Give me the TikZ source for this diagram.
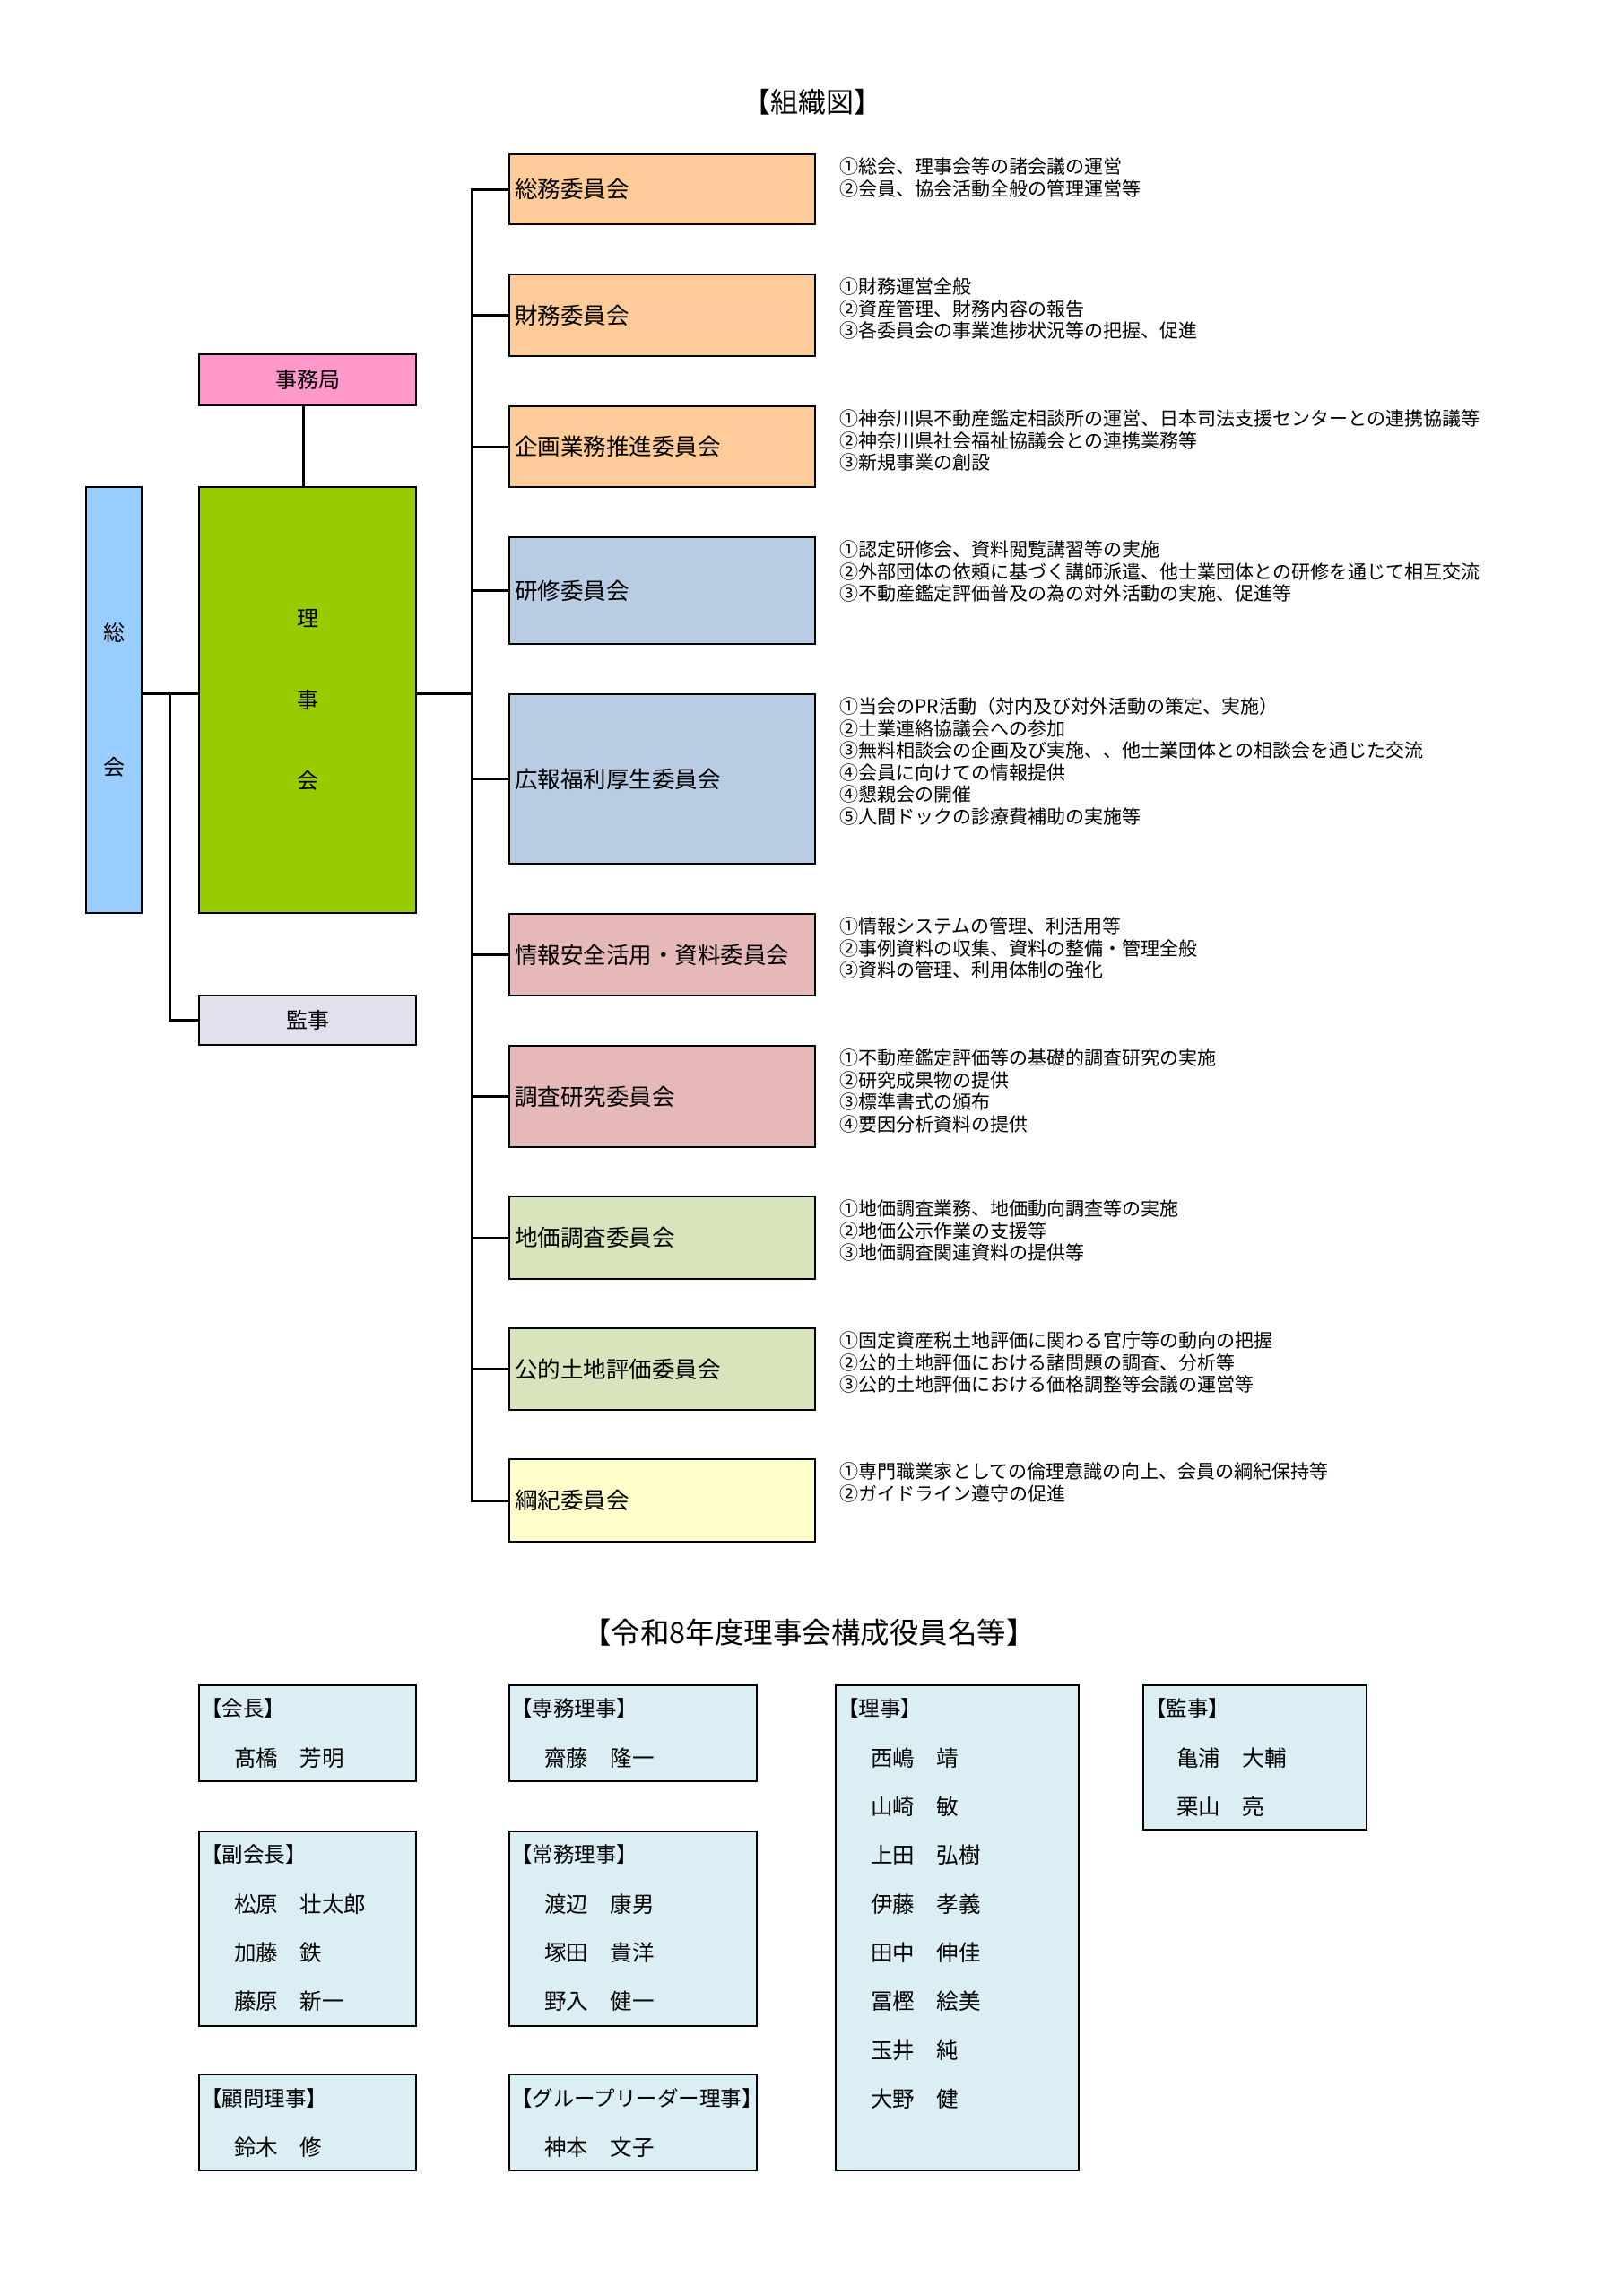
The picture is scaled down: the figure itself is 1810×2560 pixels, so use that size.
\documentclass[tikz,border=0pt]{standalone}
\usepackage{fontspec}
\setmainfont{Noto Sans CJK JP}
\definecolor{cOrange}{HTML}{FFCC99}
\definecolor{cBlue}{HTML}{B8CCE4}
\definecolor{cPink}{HTML}{E6B8B7}
\definecolor{cGreen}{HTML}{D8E4BC}
\definecolor{cYellow}{HTML}{FFFFCC}
\definecolor{cJimu}{HTML}{FF99CC}
\definecolor{cRiji}{HTML}{99CC00}
\definecolor{cSokai}{HTML}{99CCFF}
\definecolor{cKanji}{HTML}{E4DFEC}
\definecolor{cMember}{HTML}{DAEEF3}
\begin{document}
\begin{tikzpicture}[x=1pt,y=-1pt,
  box/.style={draw=black, line width=2.5pt, inner sep=0pt},
  cbox/.style={box, minimum width=341pt, text width=329pt, inner xsep=6pt, align=left, font=\fontsize{25.5}{30}\selectfont},
  desc/.style={inner sep=0pt, anchor=north west, align=left, font=\fontsize{21}{24.5}\selectfont},
  conn/.style={line width=3pt},
  mbox/.style={box, fill=cMember},
  mtxt/.style={inner sep=0pt, anchor=west, font=\fontsize{24.5}{24.5}\selectfont},
  mhdr/.style={inner sep=0pt, anchor=west, font=\fontsize{23.5}{23.5}\selectfont},
  title/.style={inner sep=0pt},
]
\fill[white] (0,0) rectangle (1810,2560);
\useasboundingbox (0,0) rectangle (1810,2560);

% titles
\node[title, font=\fontsize{31}{31}\selectfont] (t1) at (906,114) {【組織図】};
\node[title, font=\fontsize{32.5}{32.5}\selectfont] (t2) at (902,1820) {【令和8年度理事会構成役員名等】};

% left part
\node[box, fill=cSokai, minimum width=62pt, minimum height=475pt, align=center, font=\fontsize{24}{150}\selectfont] (sokai) at (127,780.5) {総\\会};
\node[box, fill=cRiji, minimum width=242pt, minimum height=475pt, align=center, font=\fontsize{24}{90.5}\selectfont] (riji) at (343,780.5) {理\\事\\会};
\node[box, fill=cJimu, minimum width=242pt, minimum height=57pt, font=\fontsize{24}{24}\selectfont] (jimu) at (343,423.5) {事務局};
\node[box, fill=cKanji, minimum width=242pt, minimum height=55pt, font=\fontsize{24}{24}\selectfont] (kanji) at (343,1137.5) {監事};

% committees
\node[cbox, fill=cOrange, minimum height=78pt] (c1) at (738.5,211) {総務委員会};
\node[cbox, fill=cOrange, minimum height=91pt] (c2) at (738.5,351.5) {財務委員会};
\node[cbox, fill=cOrange, minimum height=90pt] (c3) at (738.5,498) {企画業務推進委員会};
\node[cbox, fill=cBlue, minimum height=119pt] (c4) at (738.5,658.5) {研修委員会};
\node[cbox, fill=cBlue, minimum height=189pt] (c5) at (738.5,868.5) {広報福利厚生委員会};
\node[cbox, fill=cPink, minimum height=91pt] (c6) at (738.5,1064.5) {情報安全活用・資料委員会};
\node[cbox, fill=cPink, minimum height=113pt] (c7) at (738.5,1222.5) {調査研究委員会};
\node[cbox, fill=cGreen, minimum height=92pt] (c8) at (738.5,1380) {地価調査委員会};
\node[cbox, fill=cGreen, minimum height=91pt] (c9) at (738.5,1526.5) {公的土地評価委員会};
\node[cbox, fill=cYellow, minimum height=92pt] (c10) at (738.5,1673) {綱紀委員会};

% descriptions
\node[desc] (d1) at ([xshift=26pt,yshift=-5pt]c1.north east) {①総会、理事会等の諸会議の運営\\②会員、協会活動全般の管理運営等};
\node[desc] (d2) at ([xshift=26pt,yshift=-5pt]c2.north east) {①財務運営全般\\②資産管理、財務内容の報告\\③各委員会の事業進捗状況等の把握、促進};
\node[desc] (d3) at ([xshift=26pt,yshift=-5pt]c3.north east) {①神奈川県不動産鑑定相談所の運営、日本司法支援センターとの連携協議等\\②神奈川県社会福祉協議会との連携業務等\\③新規事業の創設};
\node[desc] (d4) at ([xshift=26pt,yshift=-5pt]c4.north east) {①認定研修会、資料閲覧講習等の実施\\②外部団体の依頼に基づく講師派遣、他士業団体との研修を通じて相互交流\\③不動産鑑定評価普及の為の対外活動の実施、促進等};
\node[desc] (d5) at ([xshift=26pt,yshift=-5pt]c5.north east) {①当会のPR活動（対内及び対外活動の策定、実施）\\②士業連絡協議会への参加\\③無料相談会の企画及び実施、、他士業団体との相談会を通じた交流\\④会員に向けての情報提供\\④懇親会の開催\\⑤人間ドックの診療費補助の実施等};
\node[desc] (d6) at ([xshift=26pt,yshift=-5pt]c6.north east) {①情報システムの管理、利活用等\\②事例資料の収集、資料の整備・管理全般\\③資料の管理、利用体制の強化};
\node[desc] (d7) at ([xshift=26pt,yshift=-5pt]c7.north east) {①不動産鑑定評価等の基礎的調査研究の実施\\②研究成果物の提供\\③標準書式の頒布\\④要因分析資料の提供};
\node[desc] (d8) at ([xshift=26pt,yshift=-5pt]c8.north east) {①地価調査業務、地価動向調査等の実施\\②地価公示作業の支援等\\③地価調査関連資料の提供等};
\node[desc] (d9) at ([xshift=26pt,yshift=-5pt]c9.north east) {①固定資産税土地評価に関わる官庁等の動向の把握\\②公的土地評価における諸問題の調査、分析等\\③公的土地評価における価格調整等会議の運営等};
\node[desc] (d10) at ([xshift=26pt,yshift=-5pt]c10.north east) {①専門職業家としての倫理意識の向上、会員の綱紀保持等\\②ガイドライン遵守の促進};

% connectors
\coordinate (sp) at (526,0);
\coordinate (lv) at (189,0);
\draw[conn] ([xshift=-5pt]jimu.south) -- ([xshift=-5pt]riji.north);
\draw[conn] ([yshift=7pt]sokai.east) -- ([yshift=7pt]riji.west);
\draw[conn] ([yshift=7pt]sokai.east -| lv) |- (kanji.west);
\draw[conn] ([yshift=7pt]riji.east) -- ([yshift=7pt]riji.east -| sp);
\draw[conn, line cap=rect] (c1.west -| sp) -- (c10.west -| sp);
\foreach \c in {c1,c2,c3,c4,c5,c6,c7,c8,c9,c10}{
  \draw[conn] (\c.west -| sp) -- (\c.west);
}

% member boxes
\node[mbox, minimum width=242pt, minimum height=107pt] (mb1) at (343,1932.5) {};
\node[mbox, minimum width=242pt, minimum height=217pt] (mb2) at (343,2150.5) {};
\node[mbox, minimum width=242pt, minimum height=107pt] (mb3) at (343,2366.5) {};
\node[mbox, minimum width=276pt, minimum height=107pt] (mb4) at (706,1932.5) {};
\node[mbox, minimum width=276pt, minimum height=217pt] (mb5) at (706,2150.5) {};
\node[mbox, minimum width=276pt, minimum height=107pt] (mb6) at (706,2366.5) {};
\node[mbox, minimum width=271pt, minimum height=541pt] (mb7) at (1067.5,2149.5) {};
\node[mbox, minimum width=249pt, minimum height=161pt] (mb8) at (1399.5,1959.5) {};

\node[mhdr] (h1) at (224,1905) {【会長】};
\node[mtxt] (n11) at (261,1960) {髙橋　芳明};
\node[mhdr] (h2) at (224,2068) {【副会長】};
\node[mtxt] (n21) at (261,2123) {松原　壮太郎};
\node[mtxt] (n22) at (261,2177) {加藤　鉄};
\node[mtxt] (n23) at (261,2231) {藤原　新一};
\node[mhdr] (h3) at (224,2340) {【顧問理事】};
\node[mtxt] (n31) at (261,2394) {鈴木　修};

\node[mhdr] (h4) at (570,1905) {【専務理事】};
\node[mtxt] (n41) at (607,1960) {齋藤　隆一};
\node[mhdr] (h5) at (570,2068) {【常務理事】};
\node[mtxt] (n51) at (607,2123) {渡辺　康男};
\node[mtxt] (n52) at (607,2177) {塚田　貴洋};
\node[mtxt] (n53) at (607,2231) {野入　健一};
\node[mhdr] (h6) at (570,2340) {【グループリーダー理事】};
\node[mtxt] (n61) at (607,2394) {神本　文子};

\node[mhdr] (h7) at (934,1905) {【理事】};
\node[mtxt] (n71) at (971,1960) {西嶋　靖};
\node[mtxt] (n72) at (971,2014) {山崎　敏};
\node[mtxt] (n73) at (971,2068) {上田　弘樹};
\node[mtxt] (n74) at (971,2123) {伊藤　孝義};
\node[mtxt] (n75) at (971,2177) {田中　伸佳};
\node[mtxt] (n76) at (971,2231) {冨樫　絵美};
\node[mtxt] (n77) at (971,2286) {玉井　純};
\node[mtxt] (n78) at (971,2340) {大野　健};

\node[mhdr] (h8) at (1277,1905) {【監事】};
\node[mtxt] (n81) at (1312,1960) {亀浦　大輔};
\node[mtxt] (n82) at (1312,2014) {栗山　亮};
\end{tikzpicture}
\end{document}
